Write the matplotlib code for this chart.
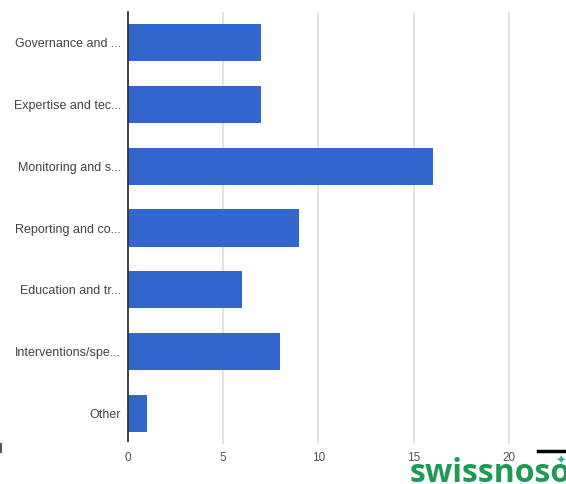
import matplotlib.pyplot as plt
from matplotlib.lines import Line2D

plt.rcParams['font.family'] = ['Liberation Sans', 'DejaVu Sans']

categories = ['Governance and ...', 'Expertise and tec...', 'Monitoring and s...',
              'Reporting and co...', 'Education and tr...', 'Interventions/spe...',
              'Other']
counts = [7, 7, 16, 9, 6, 8, 1]
x_ticks = [0, 5, 10, 15, 20]

fig = plt.figure(figsize=(5.66, 4.84), dpi=100)
# axes in figure fractions: left 128px, right edge of image, top 12px, bottom 444px
ax = fig.add_axes([128 / 566, 1 - 444 / 484, 1 - 128 / 566, 432 / 484])

pos = list(range(len(categories)))
ax.barh(pos, counts, height=0.6, color='#3366cc', zorder=3)
ax.set_ylim(len(categories) - 0.5, -0.5)
ax.set_xlim(0, 23)
ax.set_yticks(pos)
ax.set_yticklabels(categories, fontsize=9, color='#444444')
ax.set_xticks(x_ticks)
ax.set_xticklabels([str(t) for t in x_ticks], fontsize=8.5, color='#555555')
ax.tick_params(length=0, pad=5)
ax.tick_params(axis='x', pad=6)

ax.grid(axis='x', color='#dddddd', linewidth=1.2, zorder=0)
for s in ['top', 'right', 'bottom']:
    ax.spines[s].set_visible(False)
ax.spines['left'].set_color('#333333')
ax.spines['left'].set_linewidth(1.3)
ax.spines['left'].set_bounds(len(categories) - 0.55, -0.5)
ax.spines['left'].set_zorder(4)

# small marks at the lower corners
fig.add_artist(Line2D([538 / 566, 1.0], [1 - 451 / 484] * 2, color='black', linewidth=2.5))
fig.add_artist(Line2D([1 / 566] * 2, [1 - 444 / 484, 1 - 452 / 484], color='#555555', linewidth=1.5))

# logo
fig.text(410 / 566, 1 - 482 / 484, 'swissnoso', color='#1e9a55', fontsize=23,
         fontweight='bold', family='Open Sans', ha='left', va='baseline')
fig.text(561 / 566, 1 - 461 / 484, '✦', color='#1fb5a0', fontsize=9,
         family='DejaVu Sans', ha='center', va='center')

fig.savefig('out.png', dpi=100)
